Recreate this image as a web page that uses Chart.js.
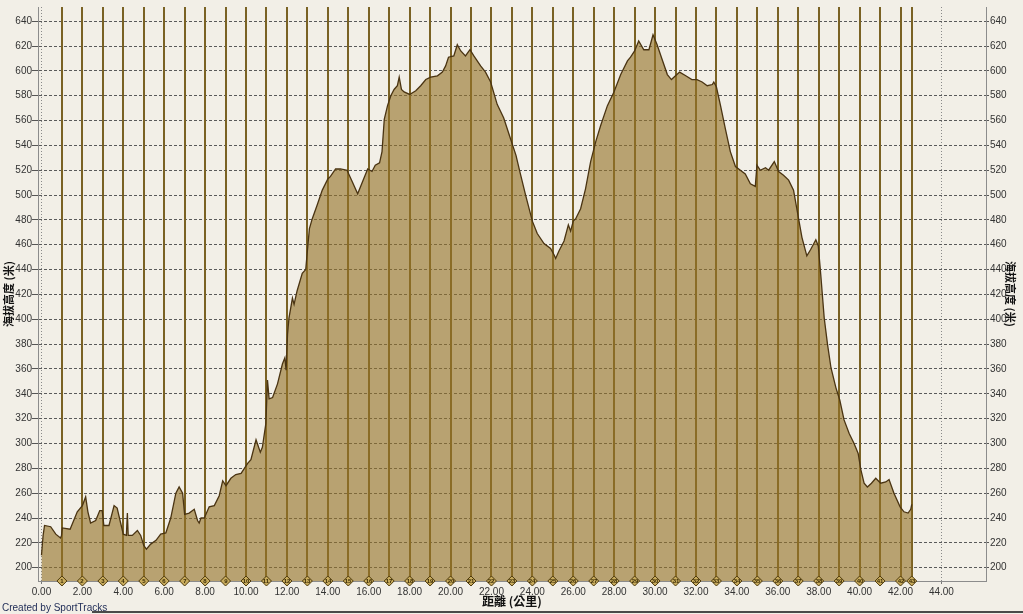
<!DOCTYPE html>
<html>
<head>
<meta charset="utf-8">
<script src="https://cdn.jsdelivr.net/npm/chart.js@4.4.1/dist/chart.umd.min.js"></script>
<style>
  html, body { margin: 0; padding: 0; background: #f2efe7; }
  canvas { display: block; }
</style>
</head>
<body>
<canvas id="chart" width="1023" height="614"></canvas>
<script>
"use strict"

// distance (km) and elevation (m)
const distKm = [
    0.00, 0.08, 0.15, 0.45, 0.70, 0.93, 0.98, 1.02, 1.40, 1.75, 2.00, 2.16, 2.27, 2.40, 2.65, 2.85, 2.97, 3.05,
    3.30, 3.55, 3.70, 3.87, 4.00, 4.15, 4.20, 4.24, 4.44, 4.69, 4.85, 5.00, 5.13, 5.34, 5.60, 5.83, 6.08, 6.32,
    6.57, 6.73, 6.90, 7.00, 7.22, 7.47, 7.63, 7.71, 7.80, 7.96, 8.20, 8.45, 8.69, 8.86, 9.02, 9.26, 9.50, 9.76,
    10.08, 10.24, 10.49, 10.70, 10.80, 10.97, 11.05, 11.13, 11.30, 11.54, 11.78, 11.90, 11.96, 12.03, 12.10, 12.27,
    12.35, 12.50, 12.75, 12.92, 13.00, 13.10, 13.24, 13.48, 13.73, 14.00, 14.13, 14.38, 14.62, 14.94, 15.19, 15.46,
    15.75, 15.95, 16.16, 16.32, 16.53, 16.65, 16.76, 16.92, 17.08, 17.24, 17.40, 17.49, 17.60, 17.73, 18.00, 18.30,
    18.54, 18.79, 19.03, 19.36, 19.60, 19.76, 19.90, 20.16, 20.33, 20.50, 20.73, 20.95, 21.14, 21.47, 21.71, 21.96,
    22.28, 22.60, 22.90, 23.20, 23.40, 23.67, 24.00, 24.24, 24.57, 24.89, 25.06, 25.14, 25.30, 25.55, 25.76, 25.87,
    26.00, 26.12, 26.36, 26.60, 26.85, 27.10, 27.34, 27.67, 27.99, 28.32, 28.65, 28.80, 29.00, 29.20, 29.45, 29.70,
    29.90, 30.10, 30.35, 30.60, 30.80, 31.00, 31.20, 31.50, 31.80, 32.05, 32.30, 32.55, 32.80, 32.87, 33.00, 33.20,
    33.44, 33.68, 33.93, 34.17, 34.41, 34.66, 34.90, 34.98, 35.14, 35.40, 35.55, 35.83, 36.04, 36.28, 36.53, 36.77,
    36.93, 37.18, 37.42, 37.60, 37.86, 37.98, 38.10, 38.27, 38.43, 38.60, 38.84, 39.03, 39.24, 39.49, 39.73, 39.93,
    40.06, 40.22, 40.38, 40.58, 40.79, 41.03, 41.28, 41.44, 41.68, 41.98, 42.17, 42.37, 42.50, 42.55
];
const elevM = [
    210, 226, 234, 233, 227, 224, 226, 232, 231, 245, 250, 257, 245, 236, 238, 246, 246, 234,
    234, 250, 248, 236, 227, 226, 244, 226, 226, 230, 226, 218, 215, 219, 222, 227, 228, 240,
    260, 265, 260, 243, 244, 247, 238, 236, 240, 240, 249, 250, 258, 270, 266, 272, 275, 276,
    284, 287, 303, 293, 297, 316, 351, 336, 337, 348, 364, 369, 359, 388, 401, 417,
    412, 423, 437, 440, 455, 473, 481, 492, 504, 513, 515, 521, 521, 520, 511, 501,
    513, 521, 519, 524, 526, 535, 561, 572, 580, 585, 588, 595, 585, 583, 581, 584,
    588, 593, 595, 596, 599, 604, 611, 612, 621, 616, 612, 617, 612, 604, 599, 591,
    573, 562, 547, 532, 518, 500, 479, 469, 461, 457, 452, 449, 455, 463, 476, 471,
    479, 481, 489, 505, 527, 543, 556, 572, 583, 597, 608, 611, 616, 624, 617, 617,
    629, 621, 609, 597, 593, 596, 599, 596, 593, 593, 591, 588, 589, 591, 587, 572,
    553, 535, 523, 520, 517, 509, 507, 524, 520, 522, 520, 527, 519, 516, 512, 504,
    489, 466, 451, 456, 464, 459, 436, 401, 380, 361, 345, 335, 319, 308, 300, 292,
    279, 268, 265, 268, 272, 268, 269, 271, 260, 249, 245, 244, 247, 251
];

// kilometre markers (last one = finish)
const kmMarks = [];
for (let k = 1; k <= 42; k++) kmMarks.push(k);
kmMarks.push(42.55);
const kmLabels = kmMarks.map((k, i) => String(i + 1));

const yMin = 189.3, yMax = 651.4;
const xMin = -0.17, xMax = 46.18;
const yTitle = "海拔高度 (米)";
const xTitle = "距離 (公里)";

const tickFont = { family: "'Liberation Sans', Arial, sans-serif", size: 10 };
const xTickFont = { family: "'Liberation Sans Narrow', 'Liberation Sans', Arial, sans-serif", size: 10 };
const titleFont = { family: "'Noto Sans CJK TC', 'Noto Sans CJK SC', sans-serif", size: 12, weight: "bold" };
const yTitleFont = { family: "'Noto Sans CJK TC', 'Noto Sans CJK SC', sans-serif", size: 11, weight: "bold" };

// keep only round ticks between lo and hi
const keepEvery = (step, lo, hi) => function (scale) {
    scale.ticks = scale.ticks.filter(t =>
        Math.abs(t.value / step - Math.round(t.value / step)) < 1e-6 && t.value >= lo - 1e-6 && t.value <= hi + 1e-6);
};

const bgPlugin = {
    id: "bg",
    beforeDraw(chart) {
        const ctx = chart.ctx;
        ctx.save();
        ctx.fillStyle = "#f2efe7";
        ctx.fillRect(0, 0, chart.width, chart.height);
        ctx.restore();
    }
};

const markerLines = {
    id: "markerLines",
    beforeDatasetsDraw(chart) {
        const ctx = chart.ctx, xs = chart.scales.x, area = chart.chartArea;
        ctx.save();
        ctx.strokeStyle = "#7a6224";
        ctx.lineWidth = 2;
        kmMarks.forEach(k => {
            const px = Math.round(xs.getPixelForValue(k));
            ctx.beginPath();
            ctx.moveTo(px, area.top);
            ctx.lineTo(px, area.bottom);
            ctx.stroke();
        });
        ctx.restore();
    },
    afterDraw(chart) {
        const ctx = chart.ctx, xs = chart.scales.x, ys = chart.scales.y;
        ctx.save();
        // numbers in the diamonds
        ctx.fillStyle = "#3b2c05";
        ctx.font = "bold 6px 'Liberation Sans', Arial, sans-serif";
        ctx.textAlign = "center";
        ctx.textBaseline = "middle";
        kmMarks.forEach((k, i) => {
            ctx.fillText(kmLabels[i], Math.round(xs.getPixelForValue(k)), ys.getPixelForValue(yMin) + 0.5);
        });
        // bottom line + credit
        ctx.fillStyle = "#4a4a4a";
        ctx.fillRect(92, 611, chart.width - 92, 2);
        ctx.fillStyle = "#1d2a55";
        ctx.font = "10px 'Liberation Sans', Arial, sans-serif";
        ctx.textAlign = "left";
        ctx.textBaseline = "alphabetic";
        ctx.fillText("Created by SportTracks", 2, 611);
        ctx.restore();
    }
};

const ctx = document.getElementById("chart").getContext("2d");

new Chart(ctx, {
    type: "line",
    data: {
        datasets: [
            {
                type: "scatter",
                data: kmMarks.map(k => ({ x: k, y: yMin })),
                pointStyle: "rectRot",
                pointRadius: 5,
                backgroundColor: "#c8ab5c",
                borderColor: "#4e3a0c",
                borderWidth: 1,
                clip: false,
                order: 0
            },
            {
                data: distKm.map((d, i) => ({ x: d, y: elevM[i] })),
                borderColor: "#4a3412",
                borderWidth: 1.3,
                backgroundColor: "rgba(148,115,40,0.62)",
                fill: "start",
                pointRadius: 0,
                tension: 0,
                order: 1
            }
        ]
    },
    options: {
        responsive: false,
        animation: false,
        devicePixelRatio: 1,
        layout: { padding: { top: 3, left: 0, right: 0, bottom: 0 } },
        plugins: {
            legend: { display: false },
            tooltip: { enabled: false }
        },
        scales: {
            x: {
                type: "linear",
                position: "bottom",
                min: xMin,
                max: xMax,
                afterBuildTicks: keepEvery(2, 0, 44),
                afterFit(scale) { scale.height = 33; },
                ticks: {
                    font: xTickFont,
                    color: "#333",
                    padding: 2,
                    stepSize: 2,
                    includeBounds: false,
                    maxRotation: 0,
                    autoSkip: false,
                    callback: v => v.toFixed(2)
                },
                grid: { color: "#8a8a8a", lineWidth: 1, tickLength: 3, tickColor: "#777" },
                border: { color: "#8c8c8c", width: 1, dash: [1, 2] },
                title: { display: true, text: xTitle, font: titleFont, color: "#111", padding: { top: 0, bottom: 5 } }
            },
            y: {
                type: "linear",
                position: "left",
                min: yMin,
                max: yMax,
                afterBuildTicks: keepEvery(20, 200, 640),
                afterFit(scale) { scale.width = 38; },
                ticks: { font: tickFont, color: "#333", padding: 0, stepSize: 20, includeBounds: false },
                grid: { color: "#5a5a5a", lineWidth: 1, tickLength: 6, tickColor: "#555" },
                border: { color: "#8c8c8c", width: 1, dash: [3, 2] },
                title: { display: true, text: yTitle, font: yTitleFont, color: "#111", padding: { top: 2, bottom: 0 } }
            },
            y2: {
                type: "linear",
                position: "right",
                min: yMin,
                max: yMax,
                afterBuildTicks: keepEvery(20, 200, 640),
                afterFit(scale) { scale.width = 37; },
                ticks: { font: tickFont, color: "#333", padding: 1, stepSize: 20, includeBounds: false },
                grid: { drawOnChartArea: false, tickLength: 3, tickColor: "#555" },
                border: { color: "#8c8c8c", width: 1 },
                title: { display: true, text: yTitle, font: yTitleFont, color: "#111", padding: { top: 6, bottom: 0 } }
            }
        }
    },
    plugins: [bgPlugin, markerLines]
});
</script>
</body>
</html>
